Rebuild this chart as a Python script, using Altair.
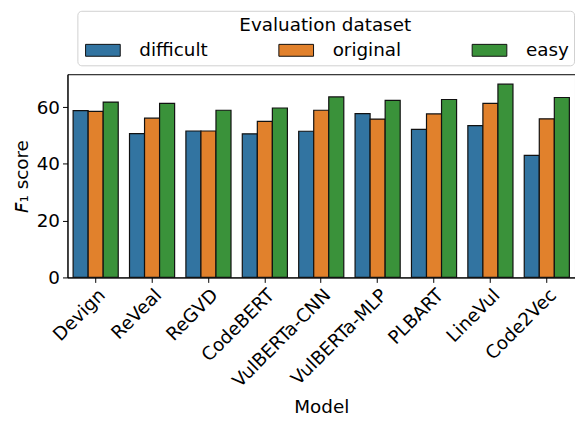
import altair as alt
import pandas as pd

models = ["Devign", "ReVeal", "ReGVD", "CodeBERT", "VulBERTa-CNN",
          "VulBERTa-MLP", "PLBART", "LineVul", "Code2Vec"]
datasets = ["difficult", "original", "easy"]
difficult = [58.8, 50.7, 51.6, 50.6, 51.5, 57.7, 52.2, 53.5, 43.0]
original = [58.5, 56.1, 51.6, 55.0, 58.9, 55.8, 57.6, 61.3, 55.9]
easy = [61.8, 61.3, 58.9, 59.7, 63.6, 62.4, 62.7, 68.1, 63.4]
colors = ["#3274a1", "#e1812c", "#3a923a"]
y_ticks = [0, 20, 40, 60]

rows = []
for i, m in enumerate(models):
    for d, vals in zip(datasets, [difficult, original, easy]):
        rows.append({"Model": m, "Evaluation dataset": d, "F1": vals[i]})
df = pd.DataFrame(rows)

FS = 18.5

chart = alt.Chart(df).mark_bar(stroke="#111111", strokeWidth=1.2).encode(
    x=alt.X("Model:N", sort=models,
            scale=alt.Scale(paddingInner=0.2, paddingOuter=0.1),
            axis=alt.Axis(labelAngle=-45, title="Model", labelFontSize=FS,
                          titleFontSize=FS, titleFontWeight="normal",
                          labelColor="black", titleColor="black",
                          domainColor="black", tickColor="black",
                          tickSize=5, labelPadding=3, titlePadding=8)),
    xOffset=alt.XOffset("Evaluation dataset:N", sort=datasets,
                        scale=alt.Scale(paddingInner=0, paddingOuter=0)),
    y=alt.Y("F1:Q", scale=alt.Scale(domain=[0, 71.6], nice=False),
            axis=alt.Axis(values=y_ticks, title="𝘍₁ score", grid=False,
                          labelFontSize=FS, titleFontSize=FS,
                          titleFontWeight="normal", labelColor="black",
                          titleColor="black", domainColor="black",
                          tickColor="black", tickSize=5, labelPadding=3,
                          titlePadding=5)),
    color=alt.Color("Evaluation dataset:N", sort=datasets,
                    scale=alt.Scale(domain=datasets, range=colors),
                    legend=alt.Legend(
                        orient="none", legendX=10, legendY=-64,
                        direction="horizontal", columns=3,
                        title="Evaluation dataset",
                        titleFontSize=FS, titleFontWeight="normal",
                        titleColor="black", titleAnchor="middle",
                        titleAlign="center", titlePadding=7,
                        labelFontSize=FS, labelColor="black",
                        labelOffset=39, columnPadding=68,
                        symbolType="M-1,-1H4.83V1H-1Z",
                        symbolSize=144, symbolStrokeColor="#111111",
                        symbolStrokeWidth=1, symbolOpacity=1,
                        strokeColor="#d0d0d0", cornerRadius=4,
                        padding=5, fillColor="white")),
).properties(
    width=512, height=205,
    padding={"left": 4, "top": 0, "right": 0, "bottom": 0},
).configure(
    font="DejaVu Sans",
).configure_view(
    stroke="black", strokeWidth=1,
)

chart.save("out.html", embed_options={"renderer": "svg", "actions": False})
